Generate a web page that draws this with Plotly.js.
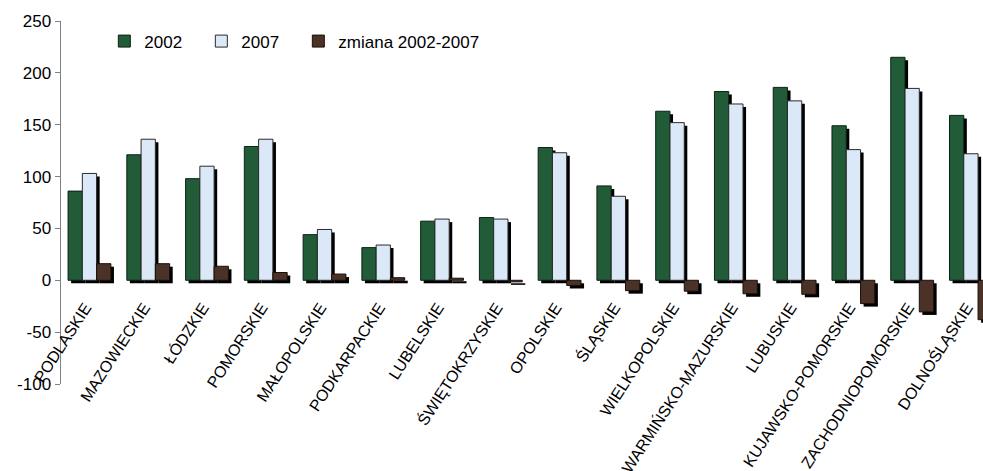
<!DOCTYPE html>
<html>
<head>
<meta charset="utf-8">
<script src="https://cdn.plot.ly/plotly-3.0.1.min.js"></script>
<style>html,body{margin:0;padding:0;background:#fff;}#chart{width:983px;height:471px;}</style>
</head>
<body>
<div id="chart"></div>
<script>
const categories = ["PODLASKIE","MAZOWIECKIE","ŁÓDZKIE","POMORSKIE","MAŁOPOLSKIE","PODKARPACKIE","LUBELSKIE","ŚWIĘTOKRZYSKIE","OPOLSKIE","ŚLĄSKIE","WIELKOPOLSKIE","WARMIŃSKO-MAZURSKIE","LUBUSKIE","KUJAWSKO-POMORSKIE","ZACHODNIOPOMORSKIE","DOLNOŚLĄSKIE"];
const v2002 = [86, 121, 98, 129, 44, 31.5, 57, 60.5, 128, 91, 163, 182, 186, 149, 215, 159];
const v2007 = [103, 136, 110, 136, 49, 34, 59, 59, 123, 81, 152, 170, 173, 126, 185, 122];
const vChange = [16, 16, 13.5, 7.5, 6, 2.5, 2, -1.5, -5, -10, -10.5, -13, -13.5, -22.5, -30.5, -38];
const seriesNames = ["2002", "2007", "zmiana 2002-2007"];
const yTicks = [-100, -50, 0, 50, 100, 150, 200, 250];

const colors = ["#215b37", "#dbe8f7", "#4a3226"];
const lineColors = ["#0b2414", "#2a2a2a", "#1a0f0a"];
const seriesVals = [v2002, v2007, vChange];
const pad = "\u00a0\u00a0\u00a0";
const bw = 0.243;
const offs = [-0.38, -0.137, 0.106];
const shX = 0.052, shY = -2.9;

const traces = [];
seriesVals.forEach((vals, i) => {
  traces.push({
    type: 'bar', x: categories, y: vals, base: shY,
    offset: offs[i] + shX, width: bw,
    marker: {color: '#000', line: {width: 0}},
    showlegend: false, hoverinfo: 'skip'
  });
});
seriesVals.forEach((vals, i) => {
  traces.push({
    type: 'bar', x: categories, y: vals, name: seriesNames[i] + (i < 2 ? pad : ''),
    offset: offs[i], width: bw,
    marker: {color: colors[i], line: {color: lineColors[i], width: 1}}
  });
});

const layout = {
  width: 983, height: 471,
  margin: {l: 61, r: 0, t: 21, b: 87},
  paper_bgcolor: '#fff', plot_bgcolor: '#fff',
  barmode: 'overlay',
  font: {family: '"Liberation Sans", Arial, sans-serif', color: '#000'},
  xaxis: {
    type: 'category', range: [-0.5, 15.19],
    anchor: 'free', position: 0.2857,
    showline: false, ticks: '', showgrid: false, zeroline: false,
    tickangle: -57, tickfont: {size: 16}, ticklabelstandoff: 14, ticklabelshift: -5,
    automargin: false
  },
  yaxis: {
    range: [-100, 250], tickvals: yTicks, ticktext: yTicks.map(String),
    showline: true, linecolor: '#808080', linewidth: 1.5,
    ticks: 'outside', ticklen: 5, tickcolor: '#808080',
    showgrid: false, zeroline: false, tickfont: {size: 17}, automargin: false
  },
  legend: {
    orientation: 'h', x: 0.047, y: 0.993, xanchor: 'left', yanchor: 'top',
    font: {size: 17}, bgcolor: 'rgba(0,0,0,0)'
  },
  showlegend: true
};

Plotly.newPlot('chart', traces, layout, {displayModeBar: false, staticPlot: true});
</script>
</body>
</html>
